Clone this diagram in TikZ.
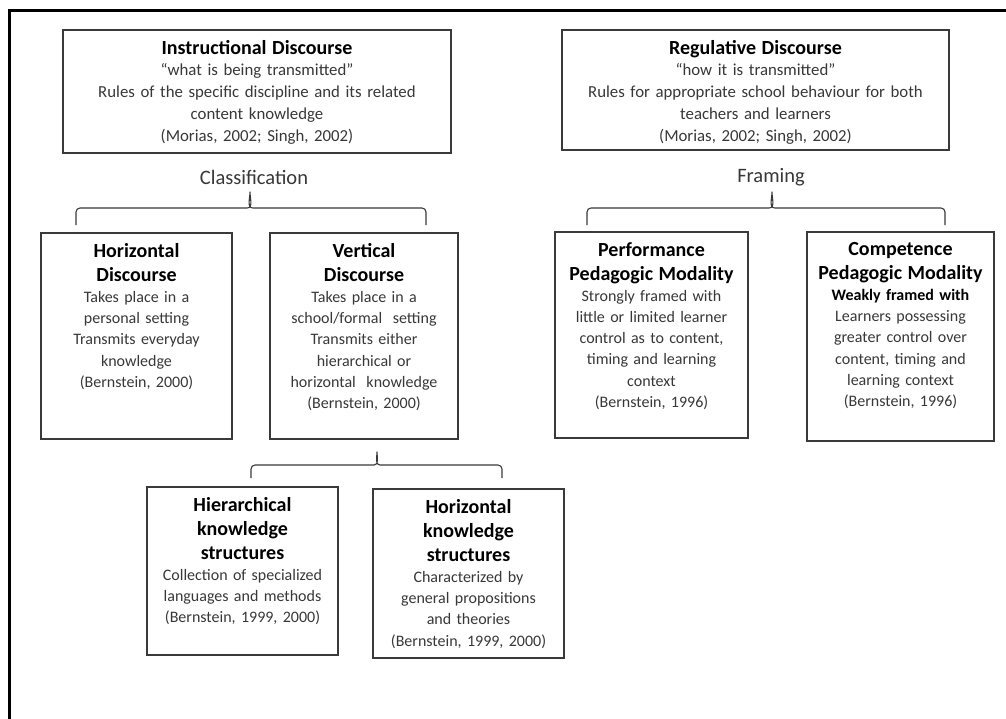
\documentclass[tikz,border=0pt]{standalone}
\usepackage{fontspec}
\setmainfont{Carlito}
\definecolor{bodytext}{HTML}{383838}
\definecolor{edge}{HTML}{3A3A3A}
\newcommand\boxtitle[1]{{\color{black}\fontsize{20}{24}\selectfont\bfseries #1\par}}
\newcommand\toptitle[1]{{\color{black}\fontsize{20}{20}\selectfont\bfseries #1\par}}
\tikzset{
  panel/.style={draw=edge, line width=1.2pt, inner sep=0pt, outer sep=0pt},
  panelText/.style={anchor=north, inner sep=0pt, align=center, text=bodytext,
    font=\fontsize{16}{21.2}\selectfont},
  topText/.style={anchor=north, inner sep=0pt, align=center, text=bodytext,
    font=\fontsize{16.8}{22}\selectfont},
  caption/.style={inner sep=0pt, text=bodytext, font=\fontsize{20.5}{24}\selectfont},
  bracket/.style={draw=edge, line width=1.1pt, line join=round},
}
% curly bracket: left end, right end, tip x, bar y, end y, tip y
\newcommand\curlybracket[6]{%
  \draw[bracket] (#1,#5) -- (#1,#4+4) to[out=90,in=180] (#1+4,#4) -- (#3-3,#4)
    to[out=0,in=-90] (#3,#6) to[out=-90,in=180] (#3+3,#4) -- (#2-4,#4)
    to[out=0,in=90] (#2,#4+4) -- (#2,#5);}
\begin{document}
\begin{tikzpicture}[x=1pt,y=-1pt]
\useasboundingbox (0,0) rectangle (1006,718);
\fill[white] (0,0) rectangle (1006,718);
% outer frame (top and left edges)
\draw[line width=3pt, line cap=rect] (9,718) -- (9,10) -- (1006,10);

% top row
\node[panel, minimum width=388pt, minimum height=123pt] (instr) at (257,91.5) {};
\node[topText, text width=384pt] (instrT) at ([yshift=-10.5pt]instr.north)
  {\toptitle{Instructional Discourse}\vspace{-1.5pt}%
   “what is being transmitted”\\
   Rules of the specific discipline and its related\\
   content knowledge\\
   (Morias, 2002; Singh, 2002)};

\node[panel, minimum width=387pt, minimum height=120pt] (regul) at (755.5,90) {};
\node[topText, text width=384pt] (regulT) at ([yshift=-10.5pt]regul.north)
  {\toptitle{Regulative Discourse}\vspace{-1.5pt}%
   “how it is transmitted”\\
   Rules for appropriate school behaviour for both\\
   teachers and learners\\
   (Morias, 2002; Singh, 2002)};

% captions and brackets
\node[caption] (classif) at (254,177) {Classification};
\node[caption] (framing) at (771,177) {Framing};
\curlybracket{76}{426}{250}{208}{225}{192}
\curlybracket{587}{945}{772}{208}{225}{192}

% second row
\node[panel, minimum width=191pt, minimum height=206pt] (hd) at (136.5,336) {};
\node[panelText, text width=189pt] (hdT) at ([yshift=-10pt]hd.north)
  {\boxtitle{Horizontal\\Discourse}%
   Takes place in a\\ personal setting\\ Transmits everyday\\ knowledge\\ (Bernstein, 2000)};

\node[panel, minimum width=188pt, minimum height=206pt] (vd) at (364,336) {};
\node[panelText, text width=186pt] (vdT) at ([yshift=-10pt]vd.north)
  {\boxtitle{Vertical\\Discourse}%
   Takes place in a\\ school/formal\ \ setting\\ Transmits either\\ hierarchical or\\ horizontal\ \ knowledge\\ (Bernstein, 2000)};

\node[panel, minimum width=193pt, minimum height=206pt] (pm) at (651.5,335) {};
\node[panelText, text width=191pt] (pmT) at ([yshift=-10pt]pm.north)
  {\boxtitle{Performance\\Pedagogic Modality}%
   Strongly framed with\\ little or limited learner\\ control as to content,\\ timing and learning\\ context\\ (Bernstein, 1996)};

\node[panel, minimum width=187pt, minimum height=209pt] (cm) at (900.5,336.5) {};
\node[panelText, text width=185pt] (cmT) at ([yshift=-10pt]cm.north)
  {\boxtitle{Competence\\Pedagogic Modality}%
   {\color{black}\bfseries Weakly framed with}\\ Learners possessing\\ greater control over\\ content, timing and\\ learning context\\ (Bernstein, 1996)};

% third row
\curlybracket{251}{502}{377}{465}{478}{452}

\node[panel, minimum width=191pt, minimum height=168pt] (hk) at (242.5,571) {};
\node[panelText, text width=189pt] (hkT) at ([yshift=-10pt]hk.north)
  {\boxtitle{Hierarchical\\knowledge\\structures}%
   Collection of specialized\\ languages and methods\\ (Bernstein, 1999,\ 2000)};

\node[panel, minimum width=191pt, minimum height=169pt] (zk) at (468.5,573.5) {};
\node[panelText, text width=189pt] (zkT) at ([yshift=-10pt]zk.north)
  {\boxtitle{Horizontal\\knowledge\\structures}%
   Characterized by\\ general propositions\\ and theories\\ (Bernstein, 1999,\ 2000)};
\end{tikzpicture}
\end{document}
